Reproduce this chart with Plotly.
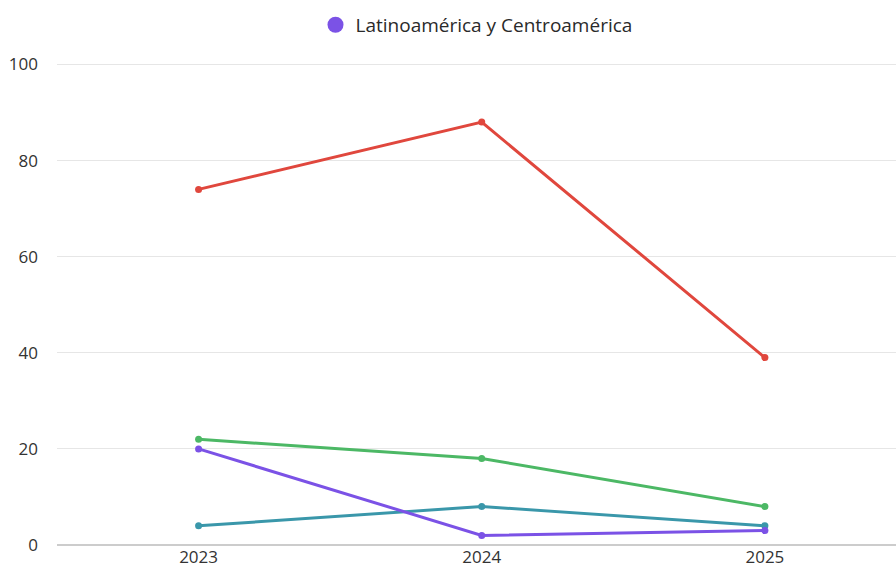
import plotly.graph_objects as go

years = ["2023", "2024", "2025"]
series_names = ["Europa", "Norteamérica", "Asia", "Latinoamérica y Centroamérica"]
series_values = [
    [74, 88, 39],
    [22, 18, 8],
    [4, 8, 4],
    [20, 2, 3],
]
series_colors = ["#e0473d", "#4cb865", "#3a97aa", "#7b52e6"]
legend_series = "Latinoamérica y Centroamérica"
y_ticks = [0, 20, 40, 60, 80, 100]

fig = go.Figure()
for name, vals, col in zip(series_names, series_values, series_colors):
    fig.add_trace(go.Scatter(
        x=years, y=vals, name=name, mode="lines+markers",
        line=dict(color=col, width=3),
        marker=dict(color=col, size=7),
        showlegend=False, legendgroup=name,
    ))
    if name == legend_series:
        # legend entry shown as a plain dot
        fig.add_trace(go.Scatter(
            x=[None], y=[None], name=name, mode="markers",
            marker=dict(color=col, size=16), legendgroup=name, showlegend=True,
        ))

fig.update_layout(
    width=896, height=572,
    margin=dict(l=57, r=0, t=63, b=27, autoexpand=False),
    paper_bgcolor="white", plot_bgcolor="white",
    font=dict(family="Open Sans", size=17, color="#333333"),
    legend=dict(orientation="h", x=0.5, xanchor="center", y=1.079, yanchor="middle",
                font=dict(size=19, color="#2a2a2a"), itemsizing="trace"),
    xaxis=dict(type="category", range=[-0.5, 2.463], showgrid=False,
               showline=False, zeroline=False, ticks="",
               tickfont=dict(size=17, color="#333333")),
    yaxis=dict(range=[0, 100.3], tickvals=y_ticks, showgrid=True, gridcolor="#e6e6e6",
               gridwidth=1, zeroline=True, zerolinecolor="#cccccc", zerolinewidth=2,
               showline=False, ticks="", ticklabelstandoff=18,
               tickfont=dict(size=17, color="#333333")),
)

fig.write_html("out.html")
